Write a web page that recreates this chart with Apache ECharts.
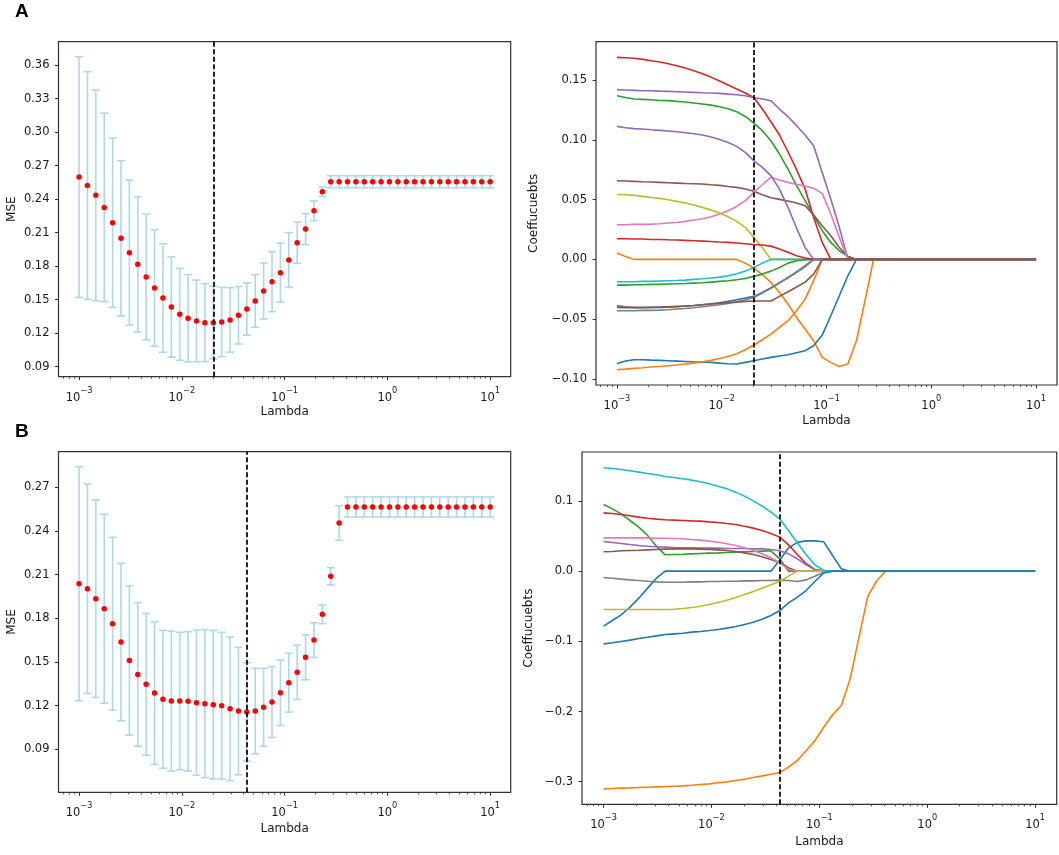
<!DOCTYPE html>
<html><head><meta charset="utf-8">
<script src="https://cdn.jsdelivr.net/npm/echarts@6/dist/echarts.min.js"></script>
<style>html,body{margin:0;padding:0;background:#fff}#c{width:1059px;height:855px}</style>
</head><body><div id="c"></div>
<script>
// Lambda grid (50 log-spaced values, 1e-3 .. 1e1)
const lambdas = [0.001,0.001207,0.001456,0.001758,0.002121,0.002560,0.003089,0.003728,0.004498,0.005429,
  0.006551,0.007906,0.009541,0.01151,0.01389,0.01677,0.02024,0.02442,0.02947,0.03556,
  0.04292,0.05179,0.06251,0.07543,0.09103,0.1099,0.1326,0.1600,0.1931,0.2330,
  0.2812,0.3393,0.4095,0.4942,0.5964,0.7197,0.8685,1.048,1.265,1.526,
  1.842,2.223,2.683,3.237,3.907,4.715,5.690,6.866,8.286,10.0];
const bestLambdaA = 0.02024;
const bestLambdaB = 0.04292;

// tick values / labels
const xTickExps = [-3,-2,-1,0,1];
const yTicksAL = [0.09,0.12,0.15,0.18,0.21,0.24,0.27,0.30,0.33,0.36];
const yTicksAR = [-0.10,-0.05,0.00,0.05,0.10,0.15];
const yTicksBL = [0.09,0.12,0.15,0.18,0.21,0.24,0.27];
const yTicksBR = [-0.3,-0.2,-0.1,0.0,0.1];

// Panel A left: cross-validated MSE and its error
const mseA = [0.2598,0.2523,0.2434,0.2326,0.2189,0.2049,0.1921,0.1816,0.1703,0.1604,
  0.1515,0.1434,0.1369,0.1333,0.1309,0.1294,0.1294,0.1300,0.1318,0.1360,
  0.1416,0.1488,0.1578,0.1661,0.1742,0.1855,0.2010,0.2132,0.2296,0.2466,
  0.2556,0.2556,0.2556,0.2556,0.2556,0.2556,0.2556,0.2556,0.2556,0.2556,
  0.2556,0.2556,0.2556,0.2556,0.2556,0.2556,0.2556,0.2556,0.2556,0.2556];
const errA = [0.1077,0.1019,0.0943,0.0844,0.0758,0.0694,0.0649,0.0606,0.0563,0.0522,
  0.0486,0.0449,0.0412,0.0391,0.0366,0.0349,0.0325,0.0310,0.0288,0.0257,
  0.0234,0.0235,0.0251,0.0269,0.0264,0.0245,0.0185,0.0139,0.0088,0.0042,
  0.0054,0.0054,0.0054,0.0054,0.0054,0.0054,0.0054,0.0054,0.0054,0.0054,
  0.0054,0.0054,0.0054,0.0054,0.0054,0.0054,0.0054,0.0054,0.0054,0.0054];

// Panel B left
const mseB = [0.2038,0.2004,0.1935,0.1866,0.1763,0.1637,0.1511,0.1415,0.1347,0.1287,
  0.1244,0.1232,0.1232,0.1230,0.1221,0.1214,0.1207,0.1200,0.1179,0.1163,
  0.1157,0.1163,0.1189,0.1225,0.1289,0.1358,0.1429,0.1532,0.1651,0.1828,
  0.2089,0.2455,0.2565,0.2565,0.2565,0.2565,0.2565,0.2565,0.2565,0.2565,
  0.2565,0.2565,0.2565,0.2565,0.2565,0.2565,0.2565,0.2565,0.2565,0.2565];
const errB = [0.0804,0.0719,0.0678,0.0649,0.0594,0.0541,0.0513,0.0493,0.0487,0.0490,
  0.0473,0.0481,0.0472,0.0478,0.0499,0.0508,0.0510,0.0504,0.0493,0.0438,
  0.0338,0.0294,0.0268,0.0243,0.0225,0.0202,0.0186,0.0154,0.0119,0.0064,
  0.0059,0.0119,0.0069,0.0069,0.0069,0.0069,0.0069,0.0069,0.0069,0.0069,
  0.0069,0.0069,0.0069,0.0069,0.0069,0.0069,0.0069,0.0069,0.0069,0.0069];

// Panel A right: coefficient paths
const aBlue1 = [-0.0401,-0.0404,-0.0404,-0.0404,-0.0401,-0.0401,-0.0399,-0.0396,-0.0390,-0.0385,
  -0.0379,-0.0371,-0.0362,-0.0351,-0.0337,-0.0323,-0.0309,-0.0276,-0.0237,-0.0195,
  -0.0153,-0.0109,-0.0061,0,0,0,0,0,0,0, 0,0,0,0,0,0,0,0,0,0, 0,0,0,0,0,0,0,0,0,0];
const aOrange1 = [0.0053,0.0025,0,0,0,0,0,0,0,0,
  0,0,0,0,0,-0.0031,-0.0072,-0.0128,-0.0192,-0.0276,
  -0.0373,-0.0485,-0.0582,-0.0680,-0.0819,-0.0861,-0.0895,-0.0875,-0.0680,-0.0346,
  0,0,0,0,0,0,0,0,0,0, 0,0,0,0,0,0,0,0,0,0];
const aGreen1 = [0.1368,0.1354,0.1341,0.1338,0.1335,0.1329,0.1327,0.1321,0.1316,0.1307,
  0.1299,0.1290,0.1276,0.1260,0.1235,0.1195,0.1140,0.1076,0.0992,0.0881,
  0.0755,0.0616,0.0491,0.0365,0.0240,0.0142,0.0072,0.0025,0,0, 0,0,0,0,0,0,0,0,0,0, 0,0,0,0,0,0,0,0,0,0];
const aRed1 = [0.1689,0.1686,0.1681,0.1672,0.1661,0.1650,0.1636,0.1619,0.1600,0.1577,
  0.1552,0.1524,0.1491,0.1458,0.1424,0.1391,0.1354,0.1257,0.1151,0.1040,
  0.0900,0.0750,0.0588,0.0351,0.0142,0,0,0,0,0, 0,0,0,0,0,0,0,0,0,0, 0,0,0,0,0,0,0,0,0,0];
const aPurple1 = [0.1419,0.1416,0.1413,0.1410,0.1410,0.1407,0.1405,0.1402,0.1399,0.1396,
  0.1393,0.1391,0.1388,0.1382,0.1377,0.1368,0.1354,0.1341,0.1327,0.1257,
  0.1193,0.1118,0.1040,0.0950,0.0727,0.0504,0.0268,0,0,0, 0,0,0,0,0,0,0,0,0,0, 0,0,0,0,0,0,0,0,0,0];
const aBrown1 = [0.0658,0.0655,0.0652,0.0649,0.0647,0.0644,0.0641,0.0638,0.0635,0.0633,
  0.0630,0.0624,0.0619,0.0610,0.0602,0.0588,0.0569,0.0541,0.0516,0.0502,
  0.0488,0.0471,0.0449,0.0371,0.0281,0.0198,0.0100,0.0025,0,0, 0,0,0,0,0,0,0,0,0,0, 0,0,0,0,0,0,0,0,0,0];
const aPink = [0.0290,0.0290,0.0293,0.0293,0.0295,0.0298,0.0304,0.0309,0.0318,0.0329,
  0.0340,0.0357,0.0379,0.0407,0.0443,0.0491,0.0560,0.0624,0.0686,0.0663,
  0.0644,0.0627,0.0613,0.0594,0.0552,0.0379,0.0184,0,0,0, 0,0,0,0,0,0,0,0,0,0, 0,0,0,0,0,0,0,0,0,0];
const aGray = [-0.0429,-0.0429,-0.0429,-0.0426,-0.0426,-0.0424,-0.0421,-0.0415,-0.0410,-0.0404,
  -0.0396,-0.0387,-0.0379,-0.0368,-0.0354,-0.0337,-0.0318,-0.0281,-0.0242,-0.0198,
  -0.0150,-0.0103,-0.0053,0,0,0,0,0,0,0, 0,0,0,0,0,0,0,0,0,0, 0,0,0,0,0,0,0,0,0,0];
const aOlive = [0.0543,0.0541,0.0535,0.0527,0.0518,0.0510,0.0499,0.0485,0.0471,0.0454,
  0.0435,0.0412,0.0387,0.0357,0.0318,0.0268,0.0184,0.0100,0,0,
  0,0,0,0,0,0,0,0,0,0, 0,0,0,0,0,0,0,0,0,0, 0,0,0,0,0,0,0,0,0,0];
const aCyan = [-0.0187,-0.0187,-0.0187,-0.0184,-0.0184,-0.0181,-0.0178,-0.0176,-0.0173,-0.0167,
  -0.0162,-0.0156,-0.0148,-0.0137,-0.0120,-0.0098,-0.0067,-0.0031,0,0,
  0,0,0,0,0,0,0,0,0,0, 0,0,0,0,0,0,0,0,0,0, 0,0,0,0,0,0,0,0,0,0];
const aBlue2 = [-0.0870,-0.0850,-0.0839,-0.0839,-0.0842,-0.0844,-0.0847,-0.0850,-0.0853,-0.0856,
  -0.0858,-0.0861,-0.0867,-0.0872,-0.0875,-0.0861,-0.0847,-0.0833,-0.0819,-0.0808,
  -0.0797,-0.0780,-0.0764,-0.0722,-0.0633,-0.0471,-0.0304,-0.0137,0,0, 0,0,0,0,0,0,0,0,0,0, 0,0,0,0,0,0,0,0,0,0];
const aOrange2 = [-0.0922,-0.0917,-0.0911,-0.0906,-0.0900,-0.0895,-0.0889,-0.0883,-0.0875,-0.0867,
  -0.0856,-0.0844,-0.0828,-0.0811,-0.0789,-0.0755,-0.0716,-0.0672,-0.0624,-0.0569,
  -0.0513,-0.0429,-0.0332,-0.0178,0,0,0,0,0,0, 0,0,0,0,0,0,0,0,0,0, 0,0,0,0,0,0,0,0,0,0];
const aGreen2 = [-0.0215,-0.0215,-0.0212,-0.0212,-0.0209,-0.0209,-0.0206,-0.0203,-0.0201,-0.0198,
  -0.0195,-0.0190,-0.0184,-0.0178,-0.0170,-0.0159,-0.0142,-0.0123,-0.0098,-0.0067,
  -0.0031,-0.0011,-0.0003,0,0,0,0,0,0,0, 0,0,0,0,0,0,0,0,0,0, 0,0,0,0,0,0,0,0,0,0];
const aRed2 = [0.0173,0.0173,0.0170,0.0170,0.0167,0.0167,0.0164,0.0162,0.0159,0.0156,
  0.0153,0.0150,0.0145,0.0142,0.0137,0.0131,0.0125,0.0120,0.0111,0.0086,
  0.0059,0.0031,0.0011,0,0,0,0,0,0,0, 0,0,0,0,0,0,0,0,0,0, 0,0,0,0,0,0,0,0,0,0];
const aPurple2 = [0.1112,0.1101,0.1093,0.1090,0.1084,0.1079,0.1073,0.1067,0.1059,0.1051,
  0.1040,0.1023,0.1003,0.0978,0.0945,0.0895,0.0825,0.0769,0.0700,0.0588,
  0.0435,0.0262,0.0100,0,0,0,0,0,0,0, 0,0,0,0,0,0,0,0,0,0, 0,0,0,0,0,0,0,0,0,0];
const aBrown2 = [-0.0387,-0.0396,-0.0401,-0.0401,-0.0401,-0.0399,-0.0396,-0.0393,-0.0390,-0.0385,
  -0.0379,-0.0373,-0.0368,-0.0362,-0.0357,-0.0351,-0.0348,-0.0348,-0.0348,-0.0309,
  -0.0270,-0.0231,-0.0190,-0.0123,0,0,0,0,0,0, 0,0,0,0,0,0,0,0,0,0, 0,0,0,0,0,0,0,0,0,0];

// Panel B right: coefficient paths
const bBlueA = [-0.0784,-0.0703,-0.0622,-0.0513,-0.0385,-0.0242,-0.0100,0,0,0,
  0,0,0,0,0,0,0,0,0,0,
  0.0160,0.0330,0.0410,0.0432,0.0432,0.0418,0.0223,0.0033,0,0, 0,0,0,0,0,0,0,0,0,0, 0,0,0,0,0,0,0,0,0,0];
const bOrange = [-0.3102,-0.3097,-0.3092,-0.3088,-0.3083,-0.3078,-0.3073,-0.3069,-0.3064,-0.3059,
  -0.3050,-0.3040,-0.3031,-0.3016,-0.3002,-0.2983,-0.2964,-0.2940,-0.2917,-0.2893,
  -0.2869,-0.2793,-0.2698,-0.2560,-0.2413,-0.2223,-0.2047,-0.1914,-0.1534,-0.0941,
  -0.0360,-0.0140,0,0,0,0,0,0,0,0, 0,0,0,0,0,0,0,0,0,0];
const bGreen = [0.0950,0.0888,0.0817,0.0722,0.0627,0.0508,0.0356,0.0233,0.0238,0.0242,
  0.0247,0.0252,0.0257,0.0261,0.0266,0.0271,0.0276,0.0280,0.0285,0.0290,
  0.0176,0,0,0,0,0,0,0,0,0, 0,0,0,0,0,0,0,0,0,0, 0,0,0,0,0,0,0,0,0,0];
const bRed = [0.0831,0.0822,0.0808,0.0789,0.0770,0.0755,0.0741,0.0732,0.0727,0.0722,
  0.0717,0.0713,0.0703,0.0694,0.0679,0.0665,0.0641,0.0613,0.0580,0.0537,
  0.0485,0.0375,0.0238,0.0105,0.0024,0,0,0,0,0, 0,0,0,0,0,0,0,0,0,0, 0,0,0,0,0,0,0,0,0,0];
const bPurple = [0.0423,0.0409,0.0394,0.0380,0.0366,0.0356,0.0347,0.0342,0.0337,0.0333,
  0.0333,0.0328,0.0328,0.0328,0.0323,0.0323,0.0323,0.0318,0.0318,0.0309,
  0.0290,0.0247,0.0176,0.0090,0.0024,0,0,0,0,0, 0,0,0,0,0,0,0,0,0,0, 0,0,0,0,0,0,0,0,0,0];
const bBrown = [0.0276,0.0280,0.0290,0.0295,0.0299,0.0304,0.0309,0.0314,0.0318,0.0318,
  0.0318,0.0314,0.0309,0.0304,0.0295,0.0280,0.0261,0.0238,0.0204,0.0166,
  0.0119,0.0048,0,0,0,0,0,0,0,0, 0,0,0,0,0,0,0,0,0,0, 0,0,0,0,0,0,0,0,0,0];
const bPink = [0.0475,0.0475,0.0475,0.0475,0.0475,0.0475,0.0470,0.0470,0.0466,0.0461,
  0.0451,0.0442,0.0428,0.0413,0.0390,0.0366,0.0333,0.0295,0.0247,0.0190,
  0.0119,0.0024,0,0,0,0,0,0,0,0, 0,0,0,0,0,0,0,0,0,0, 0,0,0,0,0,0,0,0,0,0];
const bGray = [-0.0090,-0.0100,-0.0114,-0.0124,-0.0133,-0.0143,-0.0152,-0.0157,-0.0157,-0.0157,
  -0.0152,-0.0152,-0.0147,-0.0147,-0.0143,-0.0143,-0.0138,-0.0138,-0.0133,-0.0133,
  -0.0128,-0.0133,-0.0147,-0.0124,-0.0071,-0.0014,0,0,0,0, 0,0,0,0,0,0,0,0,0,0, 0,0,0,0,0,0,0,0,0,0];
const bOlive = [-0.0546,-0.0546,-0.0546,-0.0546,-0.0546,-0.0546,-0.0546,-0.0546,-0.0542,-0.0532,
  -0.0518,-0.0499,-0.0475,-0.0447,-0.0413,-0.0375,-0.0333,-0.0290,-0.0242,-0.0195,
  -0.0147,-0.0071,0,0,0,0,0,0,0,0, 0,0,0,0,0,0,0,0,0,0, 0,0,0,0,0,0,0,0,0,0];
const bCyan = [0.1473,0.1463,0.1449,0.1430,0.1411,0.1392,0.1373,0.1349,0.1335,0.1316,
  0.1297,0.1273,0.1245,0.1211,0.1173,0.1126,0.1069,0.1002,0.0926,0.0841,
  0.0746,0.0580,0.0404,0.0233,0.0090,0.0010,0,0,0,0, 0,0,0,0,0,0,0,0,0,0, 0,0,0,0,0,0,0,0,0,0];
const bBlueB = [-0.1036,-0.1021,-0.1002,-0.0983,-0.0960,-0.0941,-0.0922,-0.0903,-0.0893,-0.0884,
  -0.0869,-0.0860,-0.0846,-0.0831,-0.0812,-0.0789,-0.0760,-0.0727,-0.0684,-0.0632,
  -0.0561,-0.0451,-0.0371,-0.0276,-0.0147,-0.0024,0,0,0,0, 0,0,0,0,0,0,0,0,0,0, 0,0,0,0,0,0,0,0,0,0];

const C = {blue:'#1f77b4',orange:'#ff7f0e',green:'#2ca02c',red:'#d62728',purple:'#9467bd',
  brown:'#8c564b',pink:'#e377c2',gray:'#7f7f7f',olive:'#bcbd22',cyan:'#17becf'};
const pathsA = [[aBlue1,C.blue],[aOrange1,C.orange],[aGreen1,C.green],[aRed1,C.red],[aPurple1,C.purple],
  [aBrown1,C.brown],[aPink,C.pink],[aGray,C.gray],[aOlive,C.olive],[aCyan,C.cyan],
  [aBlue2,C.blue],[aOrange2,C.orange],[aGreen2,C.green],[aRed2,C.red],[aPurple2,C.purple],[aBrown2,C.brown]];
const pathsB = [[bBlueA,C.blue],[bOrange,C.orange],[bGreen,C.green],[bRed,C.red],[bPurple,C.purple],
  [bBrown,C.brown],[bPink,C.pink],[bGray,C.gray],[bOlive,C.olive],[bCyan,C.cyan],[bBlueB,C.blue]];

const FONT = 'DejaVu Sans';
const TXT = '#1a1a1a';
const XMIN = -3.2, XMAX = 1.2;
const minorTicks = [];
for (let n = -4; n <= 1; n++) for (let k = 2; k <= 9; k++) {
  const v = n + Math.log10(k); if (v > XMIN && v < XMAX) minorTicks.push(v);
}
const lx = lambdas.map(l => Math.log10(l));
const fmtMinus = s => s.replace('-', '\u2212');

const grids = [
  {left:58.5, top:41.7, width:452.2, height:335},
  {left:596, top:41.7, width:461, height:343.3},
  {left:58.5, top:451.7, width:452.2, height:340.6},
  {left:582, top:452, width:474.7, height:352.3}
];
const yCfg = [
  {min:0.081, max:0.381, ticks:yTicksAL, dec:2, name:'MSE', gap:41},
  {min:-0.105, max:0.182, ticks:yTicksAR, dec:2, name:'Coeffucuebts', gap:56},
  {min:0.0605, max:0.2945, ticks:yTicksBL, dec:2, name:'MSE', gap:41},
  {min:-0.3322, max:0.1698, ticks:yTicksBR, dec:1, name:'Coeffucuebts', gap:47}
];
const xNameGap = [29, 30, 31, 32];

const xAxes = [], yAxes = [];
grids.forEach((g, gi) => {
  xAxes.push({
    type:'value', gridIndex:gi, min:XMIN, max:XMAX, position:'bottom',
    name:'Lambda', nameLocation:'middle', nameGap:xNameGap[gi],
    nameTextStyle:{fontFamily:FONT, fontSize:12, color:TXT},
    axisLine:{show:false, onZero:false}, splitLine:{show:false},
    axisTick:{show:true, customValues:xTickExps, length:3.5, lineStyle:{color:'#333', width:1}},
    axisLabel:{show:true, customValues:xTickExps, margin:10,
      formatter: v => '{b|10}{s|' + fmtMinus(String(v)) + '}',
      rich:{b:{fontFamily:FONT, fontSize:11.5, color:TXT, verticalAlign:'bottom', lineHeight:17},
            s:{fontFamily:FONT, fontSize:8.2, color:TXT, verticalAlign:'top', lineHeight:17}}}
  });
  xAxes.push({
    type:'value', gridIndex:gi, min:XMIN, max:XMAX, position:'bottom', offset:0,
    axisLine:{show:false, onZero:false}, splitLine:{show:false}, axisLabel:{show:false},
    axisTick:{show:true, customValues:minorTicks, length:2, lineStyle:{color:'#333', width:0.8}}
  });
  const yc = yCfg[gi];
  yAxes.push({
    type:'value', gridIndex:gi, min:yc.min, max:yc.max, position:'left',
    name:yc.name, nameLocation:'middle', nameGap:yc.gap,
    nameTextStyle:{fontFamily:FONT, fontSize:12, color:TXT},
    axisLine:{show:false, onZero:false}, splitLine:{show:false},
    axisTick:{show:true, customValues:yc.ticks, length:3.5, lineStyle:{color:'#333', width:1}},
    axisLabel:{show:true, customValues:yc.ticks, margin:9, fontFamily:FONT, fontSize:11.5, color:TXT,
      formatter: v => { const r = Number(v.toFixed(yc.dec)); return fmtMinus((r === 0 ? 0 : r).toFixed(yc.dec)); }}
  });
});

function errorSeries(gi, mse, err) {
  return {
    type:'custom', xAxisIndex:gi*2, yAxisIndex:gi, silent:true, z:2,
    data: lx.map((x, i) => [x, mse[i] - err[i], mse[i] + err[i]]),
    encode:{x:0, y:[1,2]},
    renderItem: (params, api) => {
      const x = api.value(0), lo = api.value(1), hi = api.value(2);
      const p1 = api.coord([x, hi]), p2 = api.coord([x, lo]);
      const hw = 4, st = {stroke:'#ADD8E6', lineWidth:1.6};
      return {type:'group', children:[
        {type:'line', shape:{x1:p1[0], y1:p1[1], x2:p2[0], y2:p2[1]}, style:st},
        {type:'line', shape:{x1:p1[0]-hw, y1:p1[1], x2:p1[0]+hw, y2:p1[1]}, style:st},
        {type:'line', shape:{x1:p2[0]-hw, y1:p2[1], x2:p2[0]+hw, y2:p2[1]}, style:st}
      ]};
    }
  };
}
function dashLine(best) {
  return {silent:true, symbol:['none','none'], label:{show:false},
    lineStyle:{color:'#000', type:[5,2.5], width:1.7}, data:[{xAxis:Math.log10(best)}]};
}
function mseSeries(gi, mse, best) {
  return {type:'scatter', xAxisIndex:gi*2, yAxisIndex:gi, silent:true, z:3,
    symbol:'circle', symbolSize:5.5, itemStyle:{color:'#ff0000', opacity:1},
    data: lx.map((x, i) => [x, mse[i]]), markLine: dashLine(best)};
}
function pathSeries(gi, paths, best) {
  return paths.map(([arr, col], k) => {
    const s = {type:'line', xAxisIndex:gi*2, yAxisIndex:gi, silent:true, z:2,
      showSymbol:false, symbol:'none', lineStyle:{color:col, width:1.6}, itemStyle:{color:col},
      data: lx.map((x, i) => [x, arr[i]])};
    if (k === paths.length - 1) s.markLine = dashLine(best);
    return s;
  });
}

const series = [
  errorSeries(0, mseA, errA), mseSeries(0, mseA, bestLambdaA),
  ...pathSeries(1, pathsA, bestLambdaA),
  errorSeries(2, mseB, errB), mseSeries(2, mseB, bestLambdaB),
  ...pathSeries(3, pathsB, bestLambdaB)
];

const chart = echarts.init(document.getElementById('c'), null, {renderer:'canvas'});
chart.setOption({
  animation:false,
  backgroundColor:'#fff',
  title:[
    {text:'A', left:15, top:2, padding:0, textStyle:{fontFamily:'Liberation Sans', fontWeight:'bold', fontSize:19, color:'#000'}},
    {text:'B', left:15, top:422, padding:0, textStyle:{fontFamily:'Liberation Sans', fontWeight:'bold', fontSize:19, color:'#000'}}
  ],
  grid: grids.map(g => Object.assign({show:true, borderColor:'#333', borderWidth:1.2, backgroundColor:'transparent'}, g)),
  xAxis: xAxes,
  yAxis: yAxes,
  series: series
});
</script></body></html>
